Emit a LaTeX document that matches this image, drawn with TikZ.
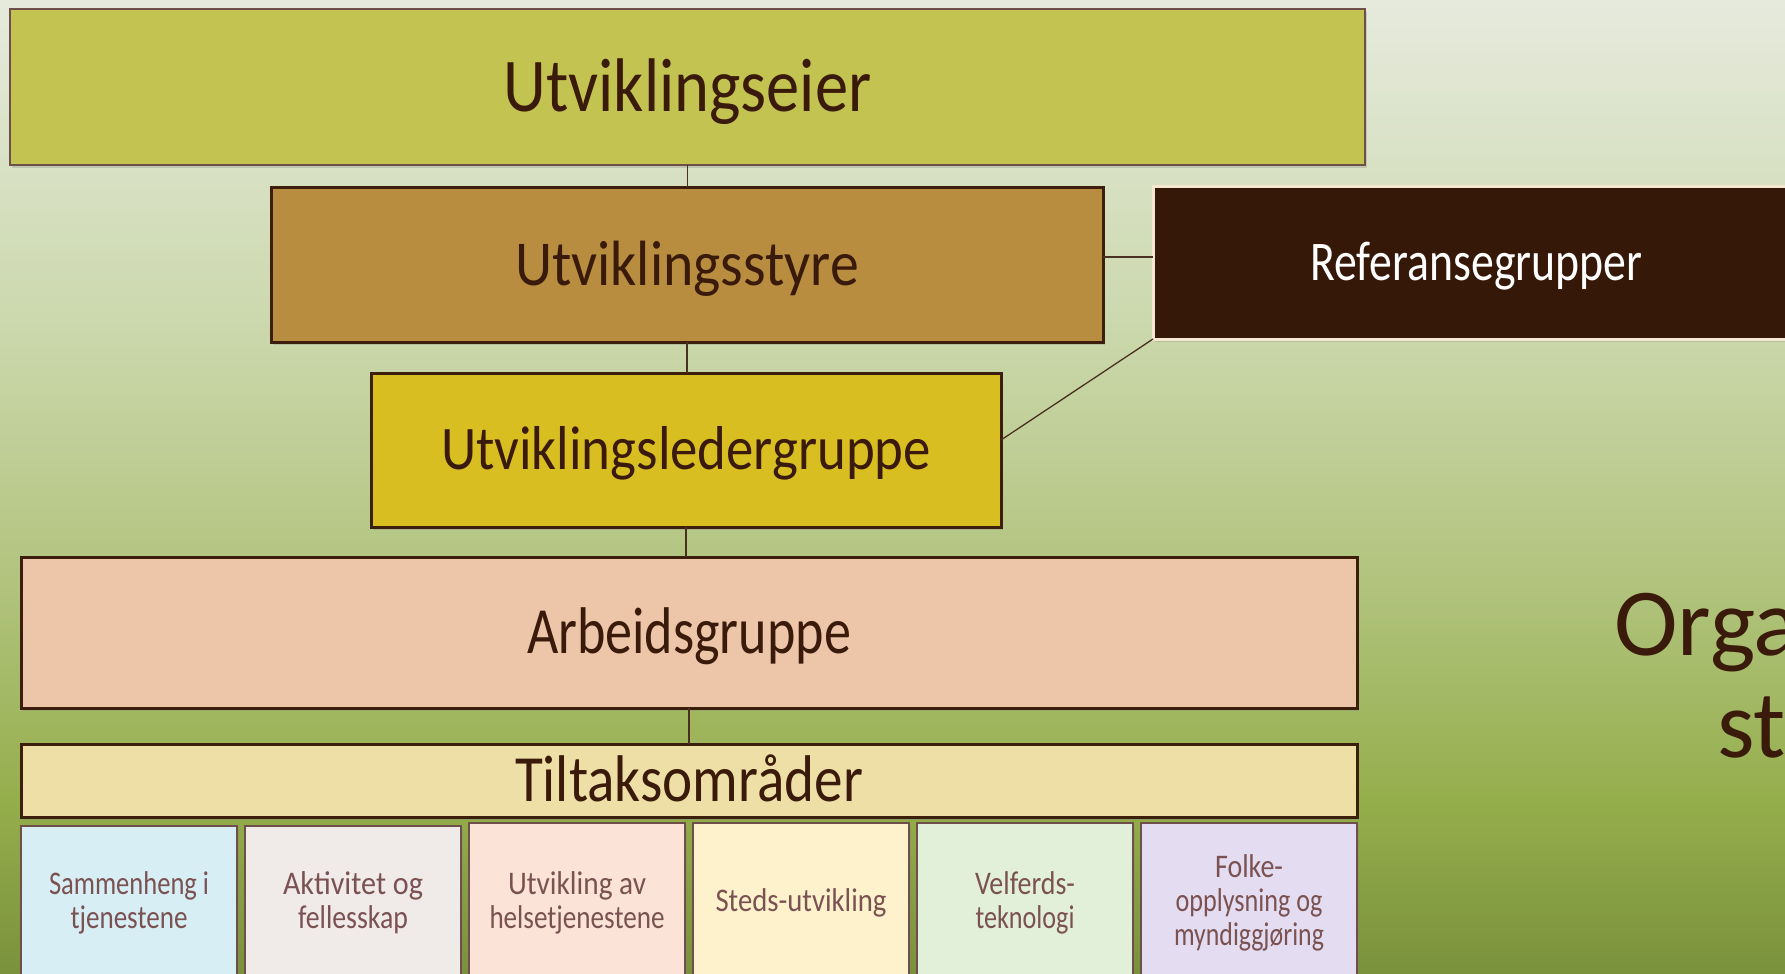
\documentclass[tikz,border=0pt]{standalone}
\usepackage{fontspec}
\setmainfont{Carlito}
\usepackage{graphicx}
\usetikzlibrary{shadows}
\definecolor{bgA}{HTML}{E6EADD}
\definecolor{bgB}{HTML}{CAD7AA}
\definecolor{bgC}{HTML}{AFC27A}
\definecolor{bgD}{HTML}{95AE4C}
\definecolor{bgE}{HTML}{7A913C}
\definecolor{cEier}{HTML}{C2C350}
\definecolor{cStyre}{HTML}{B88D40}
\definecolor{cRef}{HTML}{361808}
\definecolor{cRefBrd}{HTML}{F6E8D0}
\definecolor{cLeder}{HTML}{D9BE22}
\definecolor{cArb}{HTML}{EDC5A8}
\definecolor{cTilt}{HTML}{EDDFA5}
\definecolor{cB1}{HTML}{D7EEF4}
\definecolor{cB2}{HTML}{F0EAE8}
\definecolor{cB3}{HTML}{FBE4D7}
\definecolor{cB4}{HTML}{FEF2CD}
\definecolor{cB5}{HTML}{E2EFD9}
\definecolor{cB6}{HTML}{E4DDF1}
\definecolor{brdDark}{HTML}{3C1E0C}
\definecolor{brdSoft}{HTML}{6E4F4A}
\definecolor{txtDark}{HTML}{3A1A0A}
\definecolor{txtSoft}{HTML}{7B5252}
\definecolor{lineC}{HTML}{4A3020}
\pgfdeclareverticalshading{bgshade}{100bp}{color(0bp)=(bgE); color(25bp)=(bgE); color(33.9bp)=(bgD); color(44.2bp)=(bgC); color(57.5bp)=(bgB); color(75bp)=(bgA); color(100bp)=(bgA)}
% #1 font size (pt), #2 target width (pt), #3 text
\newcommand\hw[3]{\begingroup\fontsize{#1}{#1}\selectfont\sbox0{#3}\pgfmathsetmacro\hwfac{#2/\the\wd0}\rule{0pt}{\fontcharht\font`H}\smash{\scalebox{\hwfac}[1]{\usebox0}}\endgroup}
\begin{document}
\begin{tikzpicture}[x=1pt,y=-1pt,
  boxbase/.style={rectangle, inner sep=0pt, outer sep=0pt,
    drop shadow={shadow xshift=2pt, shadow yshift=-3pt, opacity=0.28}},
  darkbox/.style={boxbase, draw=brdDark, line width=3pt, text=txtDark},
  softbox/.style={boxbase, draw=brdSoft, line width=2.5pt, text=txtDark},
  smallbox/.style={boxbase, draw=brdSoft, line width=2.5pt, text=txtSoft,
    align=center, minimum width=216pt, font=\fontsize{33}{34}\selectfont},
  conn/.style={draw=lineC, line width=1.3pt}]
\useasboundingbox (0,0) rectangle (1785,974);
\clip (0,0) rectangle (1785,974);
\shade[shading=bgshade] (0,0) rectangle (1785,974);

\node[softbox, fill=cEier, minimum width=1355pt, minimum height=156pt] (eier) at (687.5,87) {\hw{76}{368}{Utviklingseier}};
\node[darkbox, fill=cStyre, minimum width=832pt, minimum height=155pt] (styre) at (687,264.5) {\hw{64}{344}{Utviklingsstyre}};
\node[boxbase, fill=cRef, draw=cRefBrd, line width=3pt, text=white, minimum width=647pt, minimum height=153pt] (ref) at (1476.5,262.5) {\hw{56}{332}{Referansegrupper}};
\node[darkbox, fill=cLeder, minimum width=630pt, minimum height=154pt] (leder) at (686,450) {\hw{62}{490}{Utviklingsledergruppe}};
\node[darkbox, fill=cArb, minimum width=1336pt, minimum height=151pt] (arb) at (689,632.5) {\hw{66}{324}{Arbeidsgruppe}};
\node[darkbox, fill=cTilt, minimum width=1336pt, minimum height=73pt] (tilt) at (689,780.5) {\hw{66}{348}{Tiltaksområder}};

\node[smallbox, fill=cB1, minimum height=150pt] (b1) at (129,901) {\hw{33}{160}{Sammenheng i}\\\hw{33}{117}{tjenestene}};
\node[smallbox, fill=cB2, minimum height=150pt] (b2) at (353,901) {\hw{33}{140}{Aktivitet og}\\\hw{33}{110}{fellesskap}};
\node[smallbox, fill=cB3, minimum height=156pt] (b3) at (577,901) {\hw{33}{138}{Utvikling av}\\\hw{33}{175}{helsetjenestene}};
\node[smallbox, fill=cB4, minimum height=156pt] (b4) at (801,901) {\hw{33}{171}{Steds-utvikling}};
\node[smallbox, fill=cB5, minimum height=156pt] (b5) at (1025,901) {\hw{33}{100}{Velferds-}\\\hw{33}{99}{teknologi}};
\node[smallbox, fill=cB6, minimum height=156pt] (b6) at (1249,901) {\hw{33}{68}{Folke-}\\\hw{33}{147}{opplysning og}\\\hw{33}{150}{myndiggjøring}};

\draw[conn] (eier.south) -- (eier.south |- styre.north);
\draw[conn] (styre.south) -- (styre.south |- leder.north);
\draw[conn] (leder.south) -- (leder.south |- arb.north);
\draw[conn] (arb.south) -- (arb.south |- tilt.north);
\draw[conn] ([yshift=5.5pt]ref.west) -- ([yshift=5.5pt]ref.west -| styre.east);
\draw[conn] ([yshift=10pt]leder.east) -- (ref.south west);

\node[anchor=base west, inner sep=0pt, text=txtDark, font=\fontsize{96}{96}\selectfont] (orga) at (1614,655) {Orga};
\node[anchor=base west, inner sep=0pt, text=txtDark, font=\fontsize{96}{96}\selectfont] (st) at (1717,757) {st};
\end{tikzpicture}
\end{document}
